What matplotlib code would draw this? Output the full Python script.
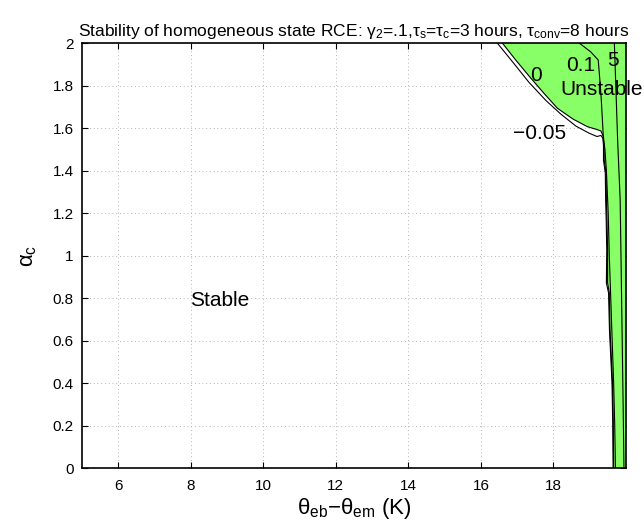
import matplotlib
matplotlib.use("Agg")
import matplotlib.pyplot as plt

plt.rcParams['font.family'] = ['Liberation Sans', 'DejaVu Sans']
plt.rcParams['mathtext.fontset'] = 'custom'
plt.rcParams['mathtext.rm'] = 'Liberation Sans'
plt.rcParams['mathtext.it'] = 'Liberation Sans'
plt.rcParams['mathtext.bf'] = 'Liberation Sans:bold'

# axis ranges / ticks
x_lim = (5, 20)
y_lim = (0, 2)
x_ticks = [6, 8, 10, 12, 14, 16, 18]
y_ticks = [0, 0.2, 0.4, 0.6, 0.8, 1, 1.2, 1.4, 1.6, 1.8, 2]
y_ticklabels = ['0', '0.2', '0.4', '0.6', '0.8', '1', '1.2', '1.4', '1.6', '1.8', '2']

# contour level 0 (boundary of unstable region)
c0_x = [16.59, 16.96, 17.38, 17.73, 18.11, 18.54, 18.94, 19.20, 19.31, 19.38, 19.40,
        19.40, 19.45, 19.46, 19.475, 19.494, 19.494, 19.54, 19.56, 19.60, 19.63, 19.65, 19.66]
c0_y = [2.0, 1.92, 1.834, 1.765, 1.693, 1.642, 1.606, 1.593, 1.586, 1.558, 1.52,
        1.449, 1.388, 1.261, 1.167, 1.026, 0.871, 0.824, 0.649, 0.508, 0.40, 0.212, 0.0]

# contour level -0.05
cm_x = [16.45, 16.88, 17.32, 17.79, 18.20, 18.62, 18.98, 19.20, 19.31, 19.36, 19.38,
        19.38, 19.43, 19.44, 19.455, 19.47, 19.46, 19.52, 19.545, 19.585, 19.615, 19.635, 19.645]
cm_y = [2.0, 1.91, 1.816, 1.73, 1.666, 1.609, 1.576, 1.56, 1.565, 1.553, 1.52,
        1.449, 1.388, 1.261, 1.167, 1.026, 0.871, 0.824, 0.649, 0.508, 0.40, 0.212, 0.0]

# contour level 0.1
c1_x = [18.71, 19.03, 19.235, 19.28, 19.32, 19.38, 19.42, 19.46, 19.51, 19.54, 19.58, 19.62, 19.66, 19.69, 19.71]
c1_y = [2.0, 1.958, 1.92, 1.826, 1.732, 1.544, 1.50, 1.40, 1.2, 1.0, 0.8, 0.6, 0.4, 0.2, 0.0]

# contour level 5
c5_x = [19.68, 19.77, 19.84, 19.88, 19.92, 19.945]
c5_y = [2.0, 1.544, 1.261, 0.79, 0.32, 0.0]

fig = plt.figure(figsize=(6.44, 5.31), dpi=100)
ax = fig.add_axes([0.1273, 0.1186, 0.8447, 0.8004])

fill_x = c0_x + [x_lim[1], x_lim[1]]
fill_y = c0_y + [y_lim[0], y_lim[1]]
ax.fill(fill_x, fill_y, color='#88ff66', lw=0, zorder=1)

for xs, ys in [(cm_x, cm_y), (c0_x, c0_y), (c1_x, c1_y), (c5_x, c5_y)]:
    ax.plot(xs, ys, color='black', lw=0.8, zorder=2)

ax.set_xlim(*x_lim)
ax.set_ylim(*y_lim)
ax.set_xticks(x_ticks)
ax.set_yticks(y_ticks)
ax.set_yticklabels(y_ticklabels)
ax.set_axisbelow(True)
ax.grid(True, linestyle=(0, (1, 3.5)), color='#a0a0a0', lw=0.6)
ax.tick_params(direction='in', top=True, right=True, labelsize=11, length=4, width=0.8)
ax.tick_params(axis='x', pad=8)
ax.tick_params(axis='y', pad=6)
for s in ax.spines.values():
    s.set_linewidth(1.2)

ax.text(17.51, 1.849, '0', fontsize=15, ha='center', va='center', zorder=3)
ax.text(18.76, 1.896, '0.1', fontsize=15, ha='center', va='center', zorder=3)
ax.text(19.64, 1.92, '5', fontsize=15, ha='center', va='center', zorder=3)
ax.text(17.62, 1.572, '\u22120.05', fontsize=15, ha='center', va='center', zorder=3)
ax.text(18.18, 1.779, 'Unstable', fontsize=15, ha='left', va='center', zorder=3, clip_on=False)
ax.text(8.81, 0.79, 'Stable', fontsize=15, ha='center', va='center', zorder=3)

ax.set_xlabel('$\\theta_{\\mathrm{eb}}$\u2212$\\theta_{\\mathrm{em}}$ (K)', fontsize=16, labelpad=2)
ax.set_ylabel(r'$\alpha_{\mathrm{c}}$', fontsize=16, labelpad=10)
ax.set_title(r'Stability of homogeneous state RCE: $\gamma_{2}$=.1,$\tau_{\mathrm{s}}$=$\tau_{\mathrm{c}}$=3 hours, $\tau_{\mathrm{conv}}$=8 hours',
             fontsize=12.5, pad=5)

fig.savefig('out.png', dpi=100)
